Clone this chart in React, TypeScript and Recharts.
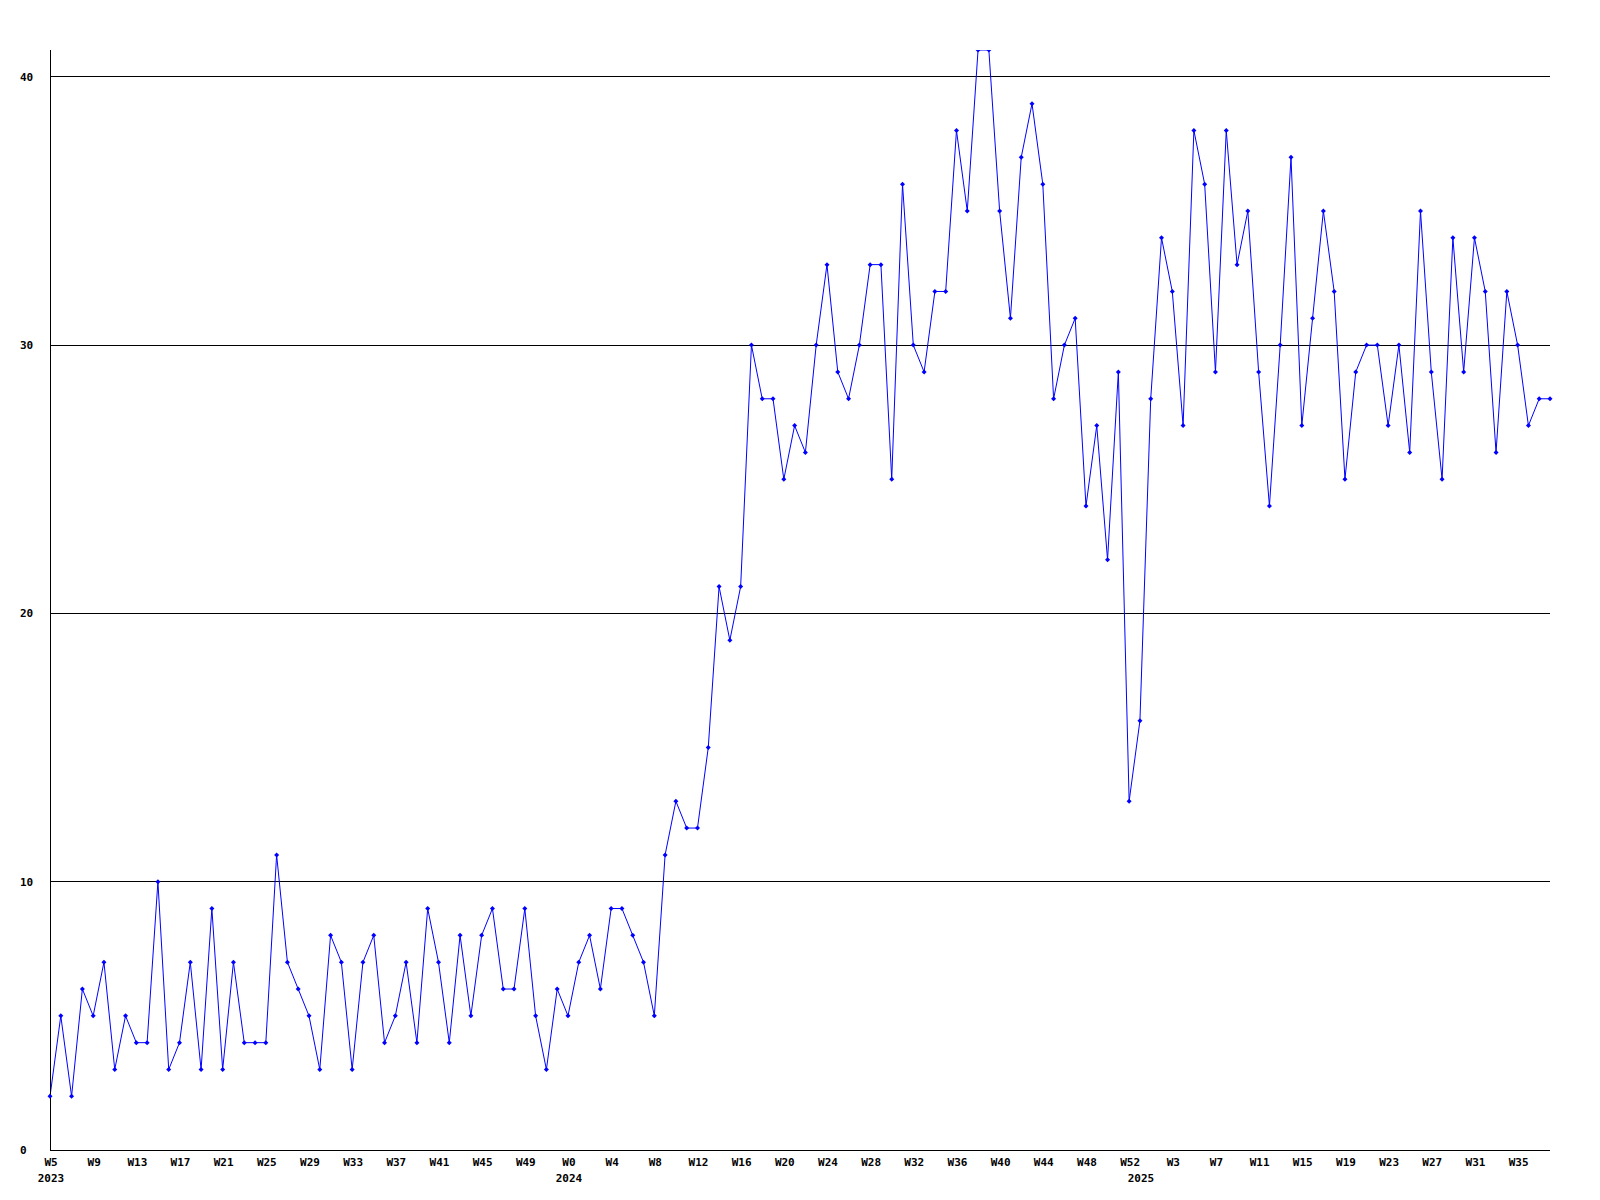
import React from 'react';
import { LineChart, Line, XAxis, YAxis, ReferenceLine } from 'recharts';

const years = ['2023', '2024', '2025'];

const weeks2023 = ['W5','W6','W7','W8','W9','W10','W11','W12','W13','W14','W15','W16','W17','W18','W19','W20','W21','W22','W23','W24','W25','W26','W27','W28','W29','W30','W31','W32','W33','W34','W35','W36','W37','W38','W39','W40','W41','W42','W43','W44','W45','W46','W47','W48','W49','W50','W51','W52'];
const weeks2024 = ['W0','W1','W2','W3','W4','W5','W6','W7','W8','W9','W10','W11','W12','W13','W14','W15','W16','W17','W18','W19','W20','W21','W22','W23','W24','W25','W26','W27','W28','W29','W30','W31','W32','W33','W34','W35','W36','W37','W38','W39','W40','W41','W42','W43','W44','W45','W46','W47','W48','W49','W50','W51','W52'];
const weeks2025 = ['W0','W1','W2','W3','W4','W5','W6','W7','W8','W9','W10','W11','W12','W13','W14','W15','W16','W17','W18','W19','W20','W21','W22','W23','W24','W25','W26','W27','W28','W29','W30','W31','W32','W33','W34','W35','W36','W37','W38'];

const values2023 = [2,5,2,6,5,7,3,5,4,4,10,3,4,7,3,9,3,7,4,4,4,11,7,6,5,3,8,7,3,7,8,4,5,7,4,9,7,4,8,5,8,9,6,6,9,5,3,6];
const values2024 = [5,7,8,6,9,9,8,7,5,11,13,12,12,15,21,19,21,30,28,28,25,27,26,30,33,29,28,30,33,33,25,36,30,29,32,32,38,35,41,41,35,31,37,39,36,28,30,31,24,27,22,29,13];
const values2025 = [16,28,34,32,27,38,36,29,38,33,35,29,24,30,37,27,31,35,32,25,29,30,30,27,30,26,35,29,25,34,29,34,32,26,32,30,27,28,28];

const yTicks = [0, 10, 20, 30, 40];
const gridValues = [10, 20, 30, 40];

const weekLists = [weeks2023, weeks2024, weeks2025];
const valueLists = [values2023, values2024, values2025];

const data: { key: string; week: string; year: string; first: boolean; value: number }[] = [];
weekLists.forEach((wl, yi) => {
  wl.forEach((w, i) => {
    data.push({ key: `${years[yi]}-${w}`, week: w, year: years[yi], first: i === 0, value: valueLists[yi][i] });
  });
});

const FONT = '"DejaVu Sans Mono", monospace';

const XTick = (props: any) => {
  const { x, y, index } = props;
  const d = data[index];
  if (!d) return <g />;
  const showWeek = index % 4 === 0;
  return (
    <g>
      {showWeek && (
        <text x={x + 1} y={y + 16} textAnchor="middle" fontFamily={FONT} fontWeight="bold" fontSize={11} fill="#000">
          {d.week}
        </text>
      )}
      {d.first && (
        <text x={x + 1} y={y + 32} textAnchor="middle" fontFamily={FONT} fontWeight="bold" fontSize={11} fill="#000">
          {d.year}
        </text>
      )}
    </g>
  );
};

const YTick = (props: any) => {
  const { x, y, payload } = props;
  return (
    <text x={x - 30} y={y + 4} textAnchor="start" fontFamily={FONT} fontWeight="bold" fontSize={11} fill="#000">
      {payload.value}
    </text>
  );
};

const Dot = (props: any) => {
  const { cx, cy, index } = props;
  if (cx == null || cy == null) return <g key={index} />;
  return (
    <path
      key={index}
      d={`M${cx},${cy - 2.5}L${cx + 2.5},${cy}L${cx},${cy + 2.5}L${cx - 2.5},${cy}Z`}
      fill="#0000ff"
      stroke="none"
    />
  );
};

export default function App() {
  return (
    <div style={{ position: 'absolute', left: 0, top: 0, width: 1600, height: 1200, background: '#fff' }}>
      <style>{`.recharts-reference-line line, .recharts-cartesian-axis-line { shape-rendering: crispEdges; }`}</style>
      <LineChart width={1600} height={1200} data={data} margin={{ top: 50, right: 50, bottom: 0, left: 20 }}>
        <XAxis
          dataKey="key"
          type="category"
          interval={0}
          height={50}
          tickSize={0}
          tickMargin={0}
          tickLine={false}
          axisLine={{ stroke: '#000', strokeWidth: 1 }}
          tick={<XTick />}
          padding={{ left: 0, right: 0 }}
        />
        <YAxis
          type="number"
          domain={[0, 41]}
          ticks={yTicks}
          width={30}
          tickSize={0}
          tickMargin={0}
          tickLine={false}
          axisLine={{ stroke: '#000', strokeWidth: 1 }}
          tick={<YTick />}
          allowDataOverflow
        />
        {gridValues.map((v) => (
          <ReferenceLine key={v} y={v} stroke="#000" strokeWidth={1} />
        ))}
        <Line
          type="linear"
          dataKey="value"
          stroke="#0000ff"
          strokeWidth={1}
          dot={<Dot />}
          activeDot={false}
          isAnimationActive={false}
        />
      </LineChart>
    </div>
  );
}
